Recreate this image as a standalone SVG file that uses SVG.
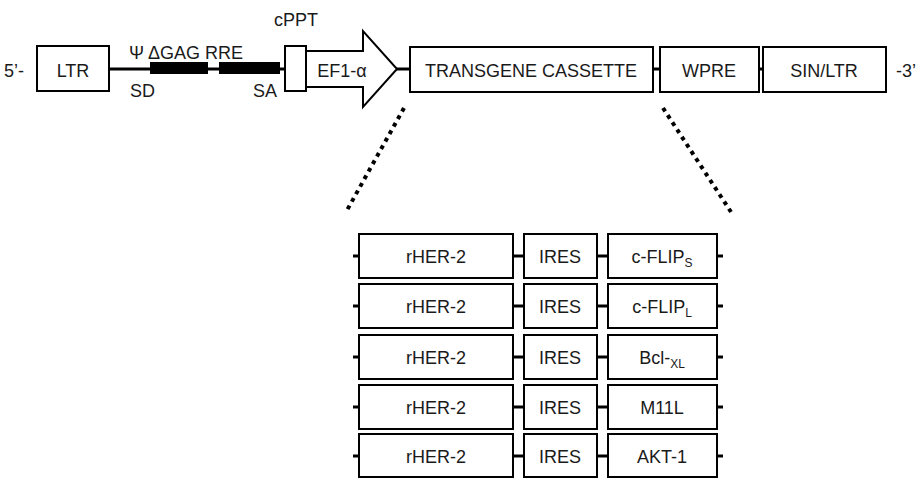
<svg xmlns="http://www.w3.org/2000/svg" width="920" height="478" viewBox="0 0 920 478">
<style>
.box{fill:#fff;stroke:#000;stroke-width:2}
.ln{stroke:#000;stroke-width:3;fill:none}
.bar{fill:#000}
.dot{stroke:#000;stroke-width:4;stroke-dasharray:4 4.6;fill:none}
text{font-family:"Liberation Sans",Arial,sans-serif;font-size:18px;fill:#1a1a1a}
.c{text-anchor:middle}
.sub{font-size:12px}
</style>
<rect width="920" height="478" fill="#fff"/>
<g id="connectors">
<line class="ln" x1="110" y1="69" x2="285" y2="69"/>
<line class="ln" x1="396" y1="69" x2="410" y2="69"/>
<line class="ln" x1="653" y1="69" x2="660" y2="69"/>
<line class="ln" x1="759" y1="69" x2="763" y2="69"/>
<line class="dot" x1="404" y1="108" x2="346" y2="212"/>
<line class="dot" x1="663" y1="108" x2="731" y2="212"/>
<g id="row-connectors">
<line class="ln" x1="353" y1="256" x2="359" y2="256"/><line class="ln" x1="513" y1="256" x2="524" y2="256"/><line class="ln" x1="597" y1="256" x2="608" y2="256"/><line class="ln" x1="717" y1="256" x2="723" y2="256"/>
<line class="ln" x1="353" y1="306" x2="359" y2="306"/><line class="ln" x1="513" y1="306" x2="524" y2="306"/><line class="ln" x1="597" y1="306" x2="608" y2="306"/><line class="ln" x1="717" y1="306" x2="723" y2="306"/>
<line class="ln" x1="353" y1="357" x2="359" y2="357"/><line class="ln" x1="513" y1="357" x2="524" y2="357"/><line class="ln" x1="597" y1="357" x2="608" y2="357"/><line class="ln" x1="717" y1="357" x2="723" y2="357"/>
<line class="ln" x1="353" y1="407" x2="359" y2="407"/><line class="ln" x1="513" y1="407" x2="524" y2="407"/><line class="ln" x1="597" y1="407" x2="608" y2="407"/><line class="ln" x1="717" y1="407" x2="723" y2="407"/>
<line class="ln" x1="353" y1="456" x2="359" y2="456"/><line class="ln" x1="513" y1="456" x2="524" y2="456"/><line class="ln" x1="597" y1="456" x2="608" y2="456"/><line class="ln" x1="717" y1="456" x2="723" y2="456"/>
</g>
</g>
<text x="4" y="77">5’-</text>
<text x="896" y="77">-3’</text>
<g id="ltr"><rect class="box" x="37" y="46" width="72" height="45"/><text class="c" x="73" y="77">LTR</text></g>
<g id="psi-gag-rre">
<rect class="bar" x="150" y="62" width="58" height="12"/>
<rect class="bar" x="219" y="62" width="61" height="12"/>
<text x="129" y="59">Ψ ΔGAG RRE</text>
<text x="130" y="97">SD</text>
<text x="253" y="97">SA</text>
</g>
<g id="cppt"><rect class="box" x="285" y="46" width="21" height="45"/><text x="274" y="26">cPPT</text></g>
<g id="ef1a"><path class="box" d="M306,51 H363 V31 L397,69 L363,107 V87 H306 Z"/><text class="c" x="342" y="77">EF1-α</text></g>
<g id="transgene"><rect class="box" x="410" y="47" width="243" height="45"/><text class="c" x="531" y="77">TRANSGENE CASSETTE</text></g>
<g id="wpre"><rect class="box" x="660" y="47" width="99" height="45"/><text class="c" x="709" y="77">WPRE</text></g>
<g id="sinltr"><rect class="box" x="763" y="47" width="123" height="45"/><text class="c" x="824" y="77">SIN/LTR</text></g>
<g id="row1">
<rect class="box" x="359" y="234" width="154" height="44"/><text class="c" x="436" y="263">rHER-2</text>
<rect class="box" x="524" y="234" width="73" height="44"/><text class="c" x="560" y="263">IRES</text>
<rect class="box" x="608" y="234" width="109" height="44"/><text class="c" x="662" y="263">c-FLIP<tspan class="sub" dy="4">S</tspan></text>
</g>
<g id="row2">
<rect class="box" x="359" y="284" width="154" height="44"/><text class="c" x="436" y="313">rHER-2</text>
<rect class="box" x="524" y="284" width="73" height="44"/><text class="c" x="560" y="313">IRES</text>
<rect class="box" x="608" y="284" width="109" height="44"/><text class="c" x="662" y="313">c-FLIP<tspan class="sub" dy="4">L</tspan></text>
</g>
<g id="row3">
<rect class="box" x="359" y="335" width="154" height="44"/><text class="c" x="436" y="364">rHER-2</text>
<rect class="box" x="524" y="335" width="73" height="44"/><text class="c" x="560" y="364">IRES</text>
<rect class="box" x="608" y="335" width="109" height="44"/><text class="c" x="662" y="364">Bcl-<tspan class="sub" dy="4">XL</tspan></text>
</g>
<g id="row4">
<rect class="box" x="359" y="385" width="154" height="44"/><text class="c" x="436" y="414">rHER-2</text>
<rect class="box" x="524" y="385" width="73" height="44"/><text class="c" x="560" y="414">IRES</text>
<rect class="box" x="608" y="385" width="109" height="44"/><text class="c" x="662" y="414">M11L</text>
</g>
<g id="row5">
<rect class="box" x="359" y="434" width="154" height="43"/><text class="c" x="436" y="463">rHER-2</text>
<rect class="box" x="524" y="434" width="73" height="43"/><text class="c" x="560" y="463">IRES</text>
<rect class="box" x="608" y="434" width="109" height="43"/><text class="c" x="662" y="463">AKT-1</text>
</g>
</svg>
